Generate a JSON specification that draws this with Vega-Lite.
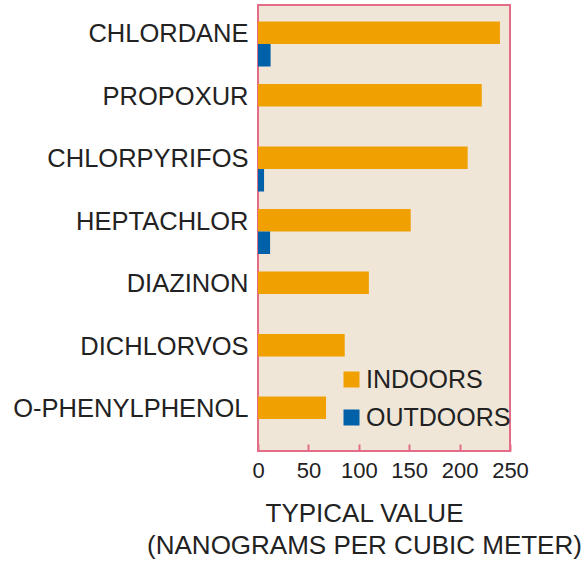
{
  "$schema": "https://vega.github.io/schema/vega-lite/v6.json",
  "autosize": "none",
  "width": 252,
  "height": 446,
  "padding": {"left": 258, "top": 5, "right": 78, "bottom": 112},
  "background": "#ffffff",
  "config": {
    "font": "Liberation Sans",
    "view": {"fill": "#efe6d8", "stroke": "#e46c86", "strokeWidth": 2}
  },
  "data": {
    "values": [
      {"chemical": "CHLORDANE", "location": "INDOORS", "value": 240},
      {"chemical": "CHLORDANE", "location": "OUTDOORS", "value": 12.5},
      {"chemical": "PROPOXUR", "location": "INDOORS", "value": 222},
      {"chemical": "CHLORPYRIFOS", "location": "INDOORS", "value": 208},
      {"chemical": "CHLORPYRIFOS", "location": "OUTDOORS", "value": 6},
      {"chemical": "HEPTACHLOR", "location": "INDOORS", "value": 151.5},
      {"chemical": "HEPTACHLOR", "location": "OUTDOORS", "value": 12},
      {"chemical": "DIAZINON", "location": "INDOORS", "value": 110},
      {"chemical": "DICHLORVOS", "location": "INDOORS", "value": 86},
      {"chemical": "O-PHENYLPHENOL", "location": "INDOORS", "value": 67.5}
    ]
  },
  "mark": {"type": "bar"},
  "encoding": {
    "y": {
      "field": "chemical",
      "type": "nominal",
      "sort": ["CHLORDANE", "PROPOXUR", "CHLORPYRIFOS", "HEPTACHLOR", "DIAZINON", "DICHLORVOS", "O-PHENYLPHENOL"],
      "scale": {"range": [7.75, 445.25], "paddingInner": 0.28, "paddingOuter": 0.14},
      "axis": {
        "title": null,
        "domain": false,
        "ticks": false,
        "labelPadding": 10,
        "labelFontSize": 25.5,
        "labelColor": "#222222",
        "labelOffset": -10,
        "labelLimit": 300
      }
    },
    "yOffset": {
      "field": "location",
      "type": "nominal",
      "sort": ["INDOORS", "OUTDOORS"],
      "scale": {"paddingInner": 0, "paddingOuter": 0}
    },
    "x": {
      "field": "value",
      "type": "quantitative",
      "scale": {"domain": [0, 250], "nice": false},
      "axis": {
        "values": [0, 50, 100, 150, 200, 250],
        "grid": false,
        "domain": false,
        "tickColor": "#e46c86",
        "tickWidth": 2,
        "tickSize": -7,
        "labelFontSize": 22,
        "labelColor": "#222222",
        "labelPadding": 16,
        "labelDx": 5,
        "labelFlush": false,
        "title": ["TYPICAL VALUE", "(NANOGRAMS PER CUBIC METER)"],
        "titleFontSize": 26,
        "titleFontWeight": "normal",
        "titleColor": "#222222",
        "titleLineHeight": 32,
        "titleX": 106,
        "titleY": 49,
        "titleBaseline": "top",
        "titleAnchor": "middle"
      }
    },
    "color": {
      "field": "location",
      "type": "nominal",
      "scale": {"domain": ["INDOORS", "OUTDOORS"], "range": ["#f0a000", "#0060a8"]},
      "legend": {
        "title": null,
        "orient": "none",
        "legendX": 81,
        "legendY": 362,
        "padding": 0,
        "symbolType": "square",
        "symbolSize": 256,
        "symbolStrokeWidth": 0,
        "labelFontSize": 25,
        "labelColor": "#222222",
        "labelOffset": 2,
        "rowPadding": 12,
        "labelLimit": 300
      }
    }
  }
}
